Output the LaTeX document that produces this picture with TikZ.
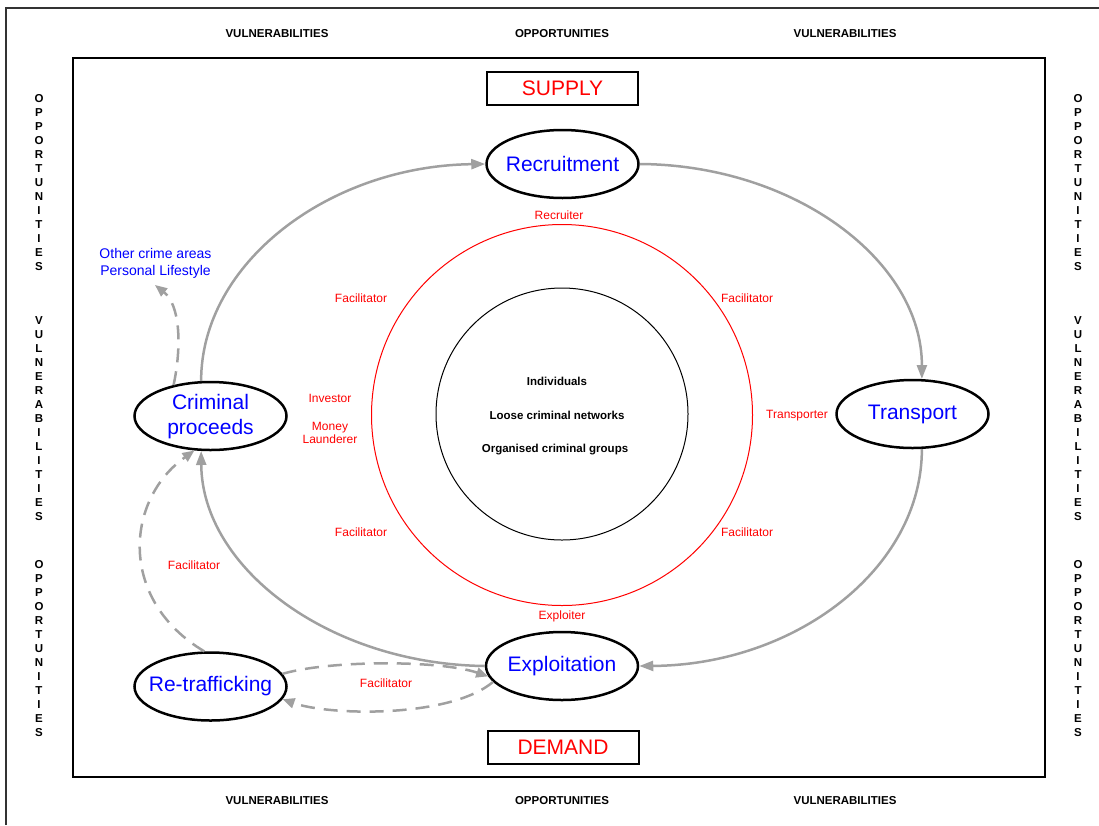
\documentclass[tikz,border=0pt]{standalone}
\usepackage{fontspec}
\setmainfont{Liberation Sans}
\usetikzlibrary{arrows.meta,shapes.geometric}
\definecolor{flow}{RGB}{160,160,160}
\definecolor{rred}{RGB}{255,0,0}
\definecolor{bblue}{RGB}{0,0,255}
\begin{document}
\begin{tikzpicture}[x=1pt,y=-1pt,
 stage/.style={ellipse, draw=black, line width=2.5pt, minimum width=152pt, minimum height=68pt, inner sep=0pt},
 stagetext/.style={text=bblue, font=\fontsize{21}{25}\selectfont, align=center, inner sep=0pt},
 sdbox/.style={draw=black, line width=2pt, minimum width=151pt, minimum height=33pt, inner sep=0pt, text=rred, font=\fontsize{21}{24}\selectfont},
 role/.style={text=rred, font=\fontsize{12}{13}\selectfont, align=center, inner sep=0pt},
 core/.style={font=\bfseries\fontsize{11.5}{13}\selectfont, inner sep=0pt},
 axislab/.style={font=\bfseries\fontsize{11.5}{13}\selectfont, inner sep=0pt},
 vert/.style={font=\bfseries\fontsize{11.5}{14}\selectfont, align=center, inner sep=0pt},
 flowline/.style={draw=flow, line width=2.5pt, -{Triangle[length=14pt,width=10pt]}},
 dashflow/.style={flowline, dash pattern=on 14pt off 9pt, -{Triangle[length=12pt,width=10pt]}},
]
\useasboundingbox (0,0) rectangle (1099,825);
% frames
\draw[line width=1.5pt, draw=black!80] (6,825) -- (6,8) -- (1099,8);
\draw[line width=1.3pt] (73,58) rectangle (1045,777);

% axis labels
\node[axislab] (tv1) at (277,33.5) {VULNERABILITIES};
\node[axislab] (to1) at (562,33.5) {OPPORTUNITIES};
\node[axislab] (tv2) at (845,33.5) {VULNERABILITIES};
\node[axislab] (bv1) at (277,800.5) {VULNERABILITIES};
\node[axislab] (bo1) at (562,800.5) {OPPORTUNITIES};
\node[axislab] (bv2) at (845,800.5) {VULNERABILITIES};
\foreach \xx/\nm in {39/l,1078/r}{
 \node[vert] (\nm o1) at (\xx,183) {O\\P\\P\\O\\R\\T\\U\\N\\I\\T\\I\\E\\S};
 \node[vert] (\nm v1) at (\xx,419) {V\\U\\L\\N\\E\\R\\A\\B\\I\\L\\I\\T\\I\\E\\S};
 \node[vert] (\nm o2) at (\xx,649) {O\\P\\P\\O\\R\\T\\U\\N\\I\\T\\I\\E\\S};
}

% supply / demand
\node[sdbox] (supply) at (562.5,88.5) {SUPPLY};
\node[sdbox] (demand) at (563,747.5) {DEMAND};

% circles
\node[circle, draw=rred, line width=1pt, minimum size=381pt, inner sep=0pt] (ring) at (562,415) {};
\node[circle, draw=black, line width=1pt, minimum size=252pt, inner sep=0pt] (corec) at (562,414) {};
\node[core] (ind) at (557,381.5) {Individuals};
\node[core] (loose) at (557,415.5) {Loose criminal networks};
\node[core] (org) at (555,449.5) {Organised criminal groups};

% stages
\node[stage] (recr) at (562.5,164) {};
\node[stagetext] (recrt) at (recr) {Recruitment};
\node[stage] (trans) at (912.5,414) {};
\node[stagetext] (transt) at (trans) {Transport};
\node[stage] (expl) at (562,666) {};
\node[stagetext] (explt) at (expl) {Exploitation};
\node[stage] (proc) at (210.5,416) {};
\node[stagetext] (proct) at ([yshift=-1pt]proc) {Criminal\\proceeds};
\node[stage] (retraf) at (210.5,686.5) {};
\node[stagetext] (retraft) at (retraf) {Re-trafficking};

% roles
\node[role] (recruiter) at (559,215.5) {Recruiter};
\node[role] (fac1) at (361,298.5) {Facilitator};
\node[role] (fac2) at (747,298.5) {Facilitator};
\node[role] (fac3) at (361,532.5) {Facilitator};
\node[role] (fac4) at (747,532.5) {Facilitator};
\node[role] (transporter) at (797,415.5) {Transporter};
\node[role] (investor) at (330,398.5) {Investor};
\node[role] (money) at (330,433) {Money\\Launderer};
\node[role] (exploiter) at (562,616.5) {Exploiter};
\node[role] (fac5) at (194,565.5) {Facilitator};
\node[role] (fac6) at (386,683.5) {Facilitator};

% other crime
\node[text=bblue, font=\fontsize{14}{17}\selectfont, align=center, inner sep=0pt] (other) at (155.5,263) {Other crime areas\\Personal Lifestyle};
\coordinate (othertip) at (155,285);

% main cycle
\draw[flowline] (proc.105) .. controls (201,263) and (329,166) .. (recr.west);
\draw[flowline] (recr.east) .. controls (795,165) and (922,261) .. (trans.75);
\draw[flowline] (trans.285) .. controls (922,569) and (795,665) .. (expl.east);
\draw[flowline] (expl.west) .. controls (329,664) and (202,568) .. (proc.255);

% dashed
\draw[dashflow] (proc.140) .. controls (182,345) and (180,305) .. (othertip);
\draw[dashflow] (retraf.100) .. controls (118,600) and (125,500) .. (proc.245);
\draw[dashflow] (retraf.10) .. controls (330,660) and (440,660) .. (expl.188);
\draw[dashflow] (expl.193) .. controls (450,718) and (330,716) .. (retraf.350);
\end{tikzpicture}
\end{document}
